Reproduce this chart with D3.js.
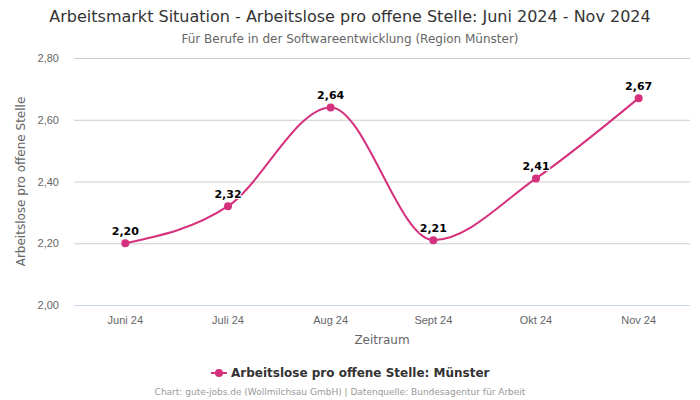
<!DOCTYPE html>
<html><head><meta charset="utf-8">
<script src="https://cdn.jsdelivr.net/npm/d3@7"></script>
<style>body{margin:0;background:#fff;} svg{display:block;font-family:"DejaVu Sans",sans-serif;}</style>
</head><body>
<svg id="c" width="700" height="400"></svg>
<script>
const categories = ["Juni 24","Juli 24","Aug 24","Sept 24","Okt 24","Nov 24"];
const values = [2.20, 2.32, 2.64, 2.21, 2.41, 2.67];
const yTicks = [2.00, 2.20, 2.40, 2.60, 2.80];
const seriesName = "Arbeitslose pro offene Stelle: Münster";

(function(){
const svg = d3.select("#c");
const color = "#d5317c";
const mL = 74, mR = 690, mT = 58, mB = 305;
const x = d3.scaleBand().domain(categories).range([mL, mR]);
const y = d3.scaleLinear().domain([2.0, 2.8]).range([mB, mT]);
const fmt = v => d3.format(".2f")(v).replace(".", ",");

svg.append("text").attr("x",350).attr("y",22).attr("text-anchor","middle")
  .attr("fill","#333").attr("font-size",16).text("Arbeitsmarkt Situation - Arbeitslose pro offene Stelle: Juni 2024 - Nov 2024");
svg.append("text").attr("x",350).attr("y",43).attr("text-anchor","middle")
  .attr("fill","#666").attr("font-size",12).text("Für Berufe in der Softwareentwicklung (Region Münster)");

const yAxis = d3.axisLeft(y).tickValues(yTicks).tickSize(-(mR-mL)).tickFormat(fmt);
const gy = svg.append("g").attr("transform",`translate(${mL},0)`).call(yAxis);
gy.select(".domain").remove();
gy.selectAll(".tick line").attr("stroke","#cccccc");
gy.selectAll(".tick text").attr("fill","#666").attr("font-size",11).attr("x",-15);
gy.selectAll(".tick").filter(d=>d===2.0).select("line").attr("stroke","#ccd6eb");

const xAxis = d3.axisBottom(x).tickSize(0);
const gx = svg.append("g").attr("transform",`translate(0,${mB})`).call(xAxis);
gx.select(".domain").remove();
gx.selectAll(".tick text").attr("fill","#666").attr("font-size",11).attr("dy",0).attr("y",19);

svg.append("text").attr("x",(mL+mR)/2).attr("y",344).attr("text-anchor","middle")
  .attr("fill","#666").attr("font-size",12).text("Zeitraum");
svg.append("text").attr("transform",`translate(25,${(mT+mB)/2}) rotate(-90)`).attr("text-anchor","middle")
  .attr("fill","#666").attr("font-size",12).text("Arbeitslose pro offene Stelle");

const cx = d => x(d) + x.bandwidth()/2;
const line = d3.line().x((d,i)=>cx(categories[i])).y(d=>y(d)).curve(d3.curveMonotoneX);
svg.append("path").datum(values).attr("d",line).attr("fill","none").attr("stroke",color).attr("stroke-width",2);
svg.selectAll("circle.p").data(values).join("circle").attr("class","p")
  .attr("cx",(d,i)=>cx(categories[i])).attr("cy",d=>y(d)).attr("r",4).attr("fill",color);
svg.selectAll("text.lbl").data(values).join("text").attr("class","lbl")
  .attr("x",(d,i)=>cx(categories[i])).attr("y",d=>y(d)-8).attr("text-anchor","middle")
  .attr("font-size",11).attr("font-weight","bold").attr("fill","#000")
  .attr("stroke","#fff").attr("stroke-width",2).attr("paint-order","stroke").text(fmt);

const lg = svg.append("g");
lg.append("text").attr("x",231).attr("y",377).attr("font-size",12).attr("font-weight","bold").attr("fill","#333").text(seriesName);
lg.append("line").attr("x1",211).attr("x2",227).attr("y1",373).attr("y2",373).attr("stroke",color).attr("stroke-width",2);
lg.append("circle").attr("cx",219).attr("cy",373).attr("r",4).attr("fill",color);

svg.append("text").attr("x",340).attr("y",395).attr("text-anchor","middle")
  .attr("fill","#999").attr("font-size",9).text("Chart: gute-jobs.de (Wollmilchsau GmbH) | Datenquelle: Bundesagentur für Arbeit");
})();
</script>
</body></html>
